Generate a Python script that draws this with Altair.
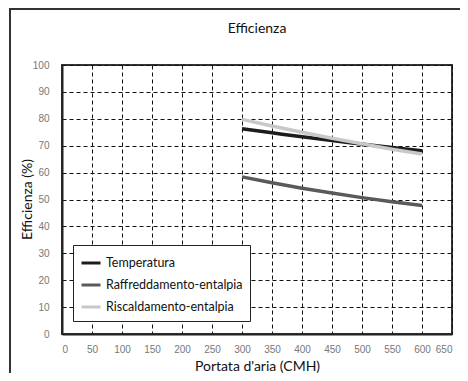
import altair as alt
import pandas as pd

portata = [300, 350, 400, 450, 500, 550, 600]
temperatura = [76.3, 74.8, 73.3, 71.9, 70.6, 69.3, 68.1]
raffreddamento = [58.4, 56.2, 54.2, 52.4, 50.7, 49.2, 47.8]
riscaldamento = [79.8, 77.3, 75.0, 72.8, 70.7, 68.7, 66.9]
series = ["Temperatura", "Raffreddamento-entalpia", "Riscaldamento-entalpia"]
colors = ["#1c1c1c", "#5a5a5a", "#c8c8c8"]

rows = []
for name, vals in zip(series, [temperatura, raffreddamento, riscaldamento]):
    for x, v in zip(portata, vals):
        rows.append({"Portata": x, "Efficienza": v, "Serie": name})
df = pd.DataFrame(rows)

NARROW = "Lato, Roboto, sans-serif"
SANS = "Liberation Sans, Arial, sans-serif"

frame = alt.Chart(pd.DataFrame({"a": [0]})).mark_rect(
    filled=False, fill=None, stroke="#333333", strokeWidth=2, clip=False
).encode(
    x=alt.value(-52), x2=alt.value(430), y=alt.value(-56), y2=alt.value(360)
)

lines = alt.Chart(df).mark_line(strokeWidth=3.5, interpolate="monotone").encode(
    x=alt.X(
        "Portata:Q",
        scale=alt.Scale(domain=[0, 650], nice=False),
        axis=alt.Axis(
            values=list(range(0, 651, 50)),
            title="Portata d'aria (CMH)",
            titleX=195, titleY=32, titleBaseline="middle", titleAlign="center",
        ),
    ),
    y=alt.Y(
        "Efficienza:Q",
        scale=alt.Scale(domain=[0, 100], nice=False),
        axis=alt.Axis(
            values=list(range(0, 101, 10)),
            title="Efficienza (%)",
            titleX=-35, titleY=134, titleBaseline="middle", titleAlign="center",
        ),
    ),
    color=alt.Color(
        "Serie:N",
        scale=alt.Scale(domain=series, range=colors),
        sort=series,
        legend=alt.Legend(
            title=None,
            orient="none",
            legendX=11,
            legendY=180,
            symbolType="stroke",
            symbolSize=361,
            symbolStrokeWidth=3,
            labelFont=NARROW,
            labelFontSize=12.5,
            labelColor="#111111",
            labelOffset=4,
            rowPadding=4,
            padding=7,
            strokeColor="#222222",
            fillColor="white",
        ),
    ),
)

chart = alt.layer(frame, lines).properties(
    width=390,
    height=269,
    background="white",
    autosize=alt.AutoSizeParams(type="none"),
    padding={"left": 54, "top": 57, "right": 8, "bottom": 39},
    title=alt.TitleParams(
        "Efficienza", font=NARROW, fontSize=14, fontWeight="normal",
        color="#111111", anchor="middle", offset=0, dy=35, baseline="middle",
    ),
).configure_axis(
    grid=True,
    gridColor="#111111",
    gridDash=[4, 3],
    gridWidth=1,
    domainColor="#222222",
    domainWidth=2,
    ticks=False,
    labelFont=SANS,
    labelFontSize=10,
    labelColor="#777777",
    titleFont=NARROW,
    titleFontSize=14,
    titleFontWeight="normal",
    titleColor="#111111",
).configure_axisY(
    labelPadding=13,
).configure_axisX(
    labelPadding=10,
).configure_view(
    stroke="#333333", strokeWidth=2
)

chart.save("out.html", embed_options={"renderer": "svg", "actions": False})
